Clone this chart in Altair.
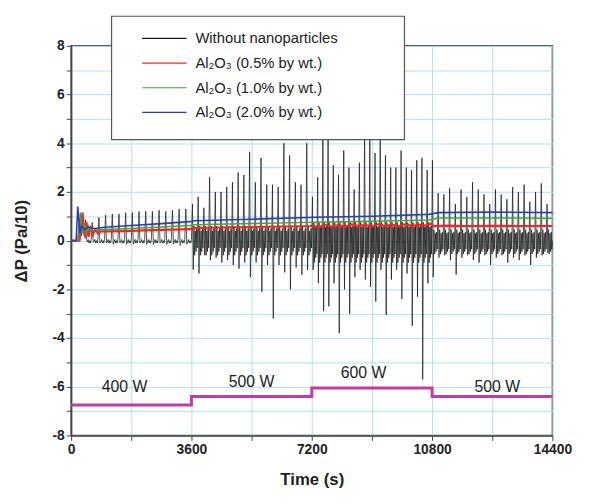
import altair as alt
import pandas as pd

# ---------------- data ----------------
series_names = ["Without nanoparticles", "Al₂O₃ (0.5% by wt.)",
                "Al₂O₃ (1.0% by wt.)", "Al₂O₃ (2.0% by wt.)"]
series_colors = ["#1a1a1a", "#ff1f1f", "#3aa83a", "#2c3cbc"]

x_ticks = [0, 1800, 3600, 5400, 7200, 9000, 10800, 12600, 14400]
y_ticks = [-8, -7, -6, -5, -4, -3, -2, -1, 0, 1, 2, 3, 4, 5, 6, 7, 8]

# black trace (without nanoparticles): lead-in, then one peak/trough per oscillation cycle
black_lead_t = [0, 200, 250, 300, 360, 420]
black_lead_v = [0.0, 0.0, 0.9, 0.2, 0.6, 0.1]

seg_start = [420, 3620, 7211, 10800]
seg_end = [3620, 7211, 10800, 14400]

seg_peaks = [
    [0.85, 0.75, 0.95, 1.05, 1.1, 1.1, 1.15, 1.15, 1.2, 1.2, 1.2, 1.25, 1.2, 1.25, 1.3, 1.3],
    [1.5, 1.8, 1.35, 2.6, 2.0, 2.0, 2.2, 2.4, 2.8, 2.7, 3.65, 2.4, 3.4, 2.3, 2.3, 2.2, 4.0, 3.5, 2.4, 2.3, 4.0],
    [1.8, 2.6, 4.5, 4.3, 3.1, 2.7, 3.7, 3.0, 2.1, 3.2, 4.6, 4.4, 3.6, 4.8, 3.5, 3.0, 3.0, 3.7, 3.0, 2.9, 3.3, 3.4, 2.9],
    [3.3, 1.95, 1.9, 2.15, 1.5, 2.1, 1.8, 2.4, 2.1, 1.9, 1.5, 2.1, 1.9, 1.7, 2.2, 2.0, 2.3, 1.6, 2.0, 2.35, 1.5],
]
seg_troughs = [
    [0.05, -0.05, -0.1, -0.1, -0.15, -0.1, -0.15, -0.15, -0.1, -0.15, -0.15, -0.1, -0.15, -0.15, -0.2, -0.15],
    [-1.2, -1.35, -0.6, -0.8, -0.7, -0.9, -0.8, -1.0, -1.15, -0.9, -1.5, -0.9, -2.1, -1.0, -3.2, -1.0, -1.3, -2.0, -1.1, -1.4, -1.2],
    [-1.2, -1.75, -2.9, -2.7, -1.75, -3.8, -2.0, -3.0, -1.5, -1.2, -1.6, -1.9, -2.5, -1.2, -3.05, -1.6, -1.2, -2.4, -1.35, -3.5, -2.3, -5.7, -1.75],
    [-1.5, -0.7, -0.6, -0.8, -1.4, -0.7, -0.6, -0.8, -0.9, -0.6, -1.0, -0.7, -0.6, -0.9, -0.7, -0.8, -0.6, -1.0, -0.7, -0.6, -0.5],
]
# small in-between wiggle of each cycle, per heating segment
seg_wiggle = [
    [-0.05, 0.05, -0.1, 0.0, -0.1, 0.05],
    [0.6, -0.6, 0.4, -0.45, 0.5, -0.3],
    [0.75, -0.9, 0.55, -0.7, 0.6, -0.55],
    [0.45, -0.55, 0.3, -0.45, 0.35, -0.35],
]

red_t = [0, 250, 300, 340, 400, 460, 520, 580, 650, 720, 800, 900, 1200, 1800, 2400, 3000, 3550, 3650,
         4500, 5400, 6300, 7150, 7250, 7400, 7600, 7800, 8000, 8200, 8400, 8600, 8800, 9000, 9200, 9400,
         9600, 9800, 10000, 10200, 10400, 10600, 10750, 10850, 11200, 11800, 12600, 13400, 14400]
red_v = [0, 0, 0.6, 1.15, 0.2, 0.75, 0.15, 0.6, 0.25, 0.45, 0.3, 0.38, 0.38, 0.4, 0.43, 0.45, 0.47, 0.52,
         0.54, 0.56, 0.58, 0.6, 0.62, 0.55, 0.66, 0.58, 0.64, 0.57, 0.67, 0.6, 0.65, 0.58, 0.68, 0.6,
         0.66, 0.59, 0.68, 0.6, 0.66, 0.62, 0.7, 0.6, 0.62, 0.6, 0.61, 0.6, 0.6]

green_t = [0, 200, 240, 280, 330, 400, 450, 520, 600, 800, 1800, 2700, 3550, 3700, 5400, 7100, 7300,
           9000, 10700, 11000, 12600, 14400]
green_v = [0, 0, 0.5, 1.15, 0.3, 0.7, 0.25, 0.6, 0.4, 0.45, 0.5, 0.56, 0.62, 0.65, 0.7, 0.75, 0.76,
           0.8, 0.85, 0.93, 0.93, 0.92]

blue_t = [0, 150, 200, 260, 320, 400, 500, 700, 1000, 1800, 2700, 3550, 3700, 5400, 7100, 7300,
          9000, 10700, 11000, 12600, 14400]
blue_v = [0, 0, 1.4, 0.3, 0.6, 0.45, 0.55, 0.5, 0.55, 0.62, 0.7, 0.78, 0.82, 0.88, 0.95, 0.96,
          1.0, 1.08, 1.15, 1.17, 1.15]

power_t = [0, 3600, 7200, 10800, 14400]
power_v = [-6.75, -6.4, -6.05, -6.4, -6.4]

power_labels = ["400 W", "500 W", "600 W", "500 W"]
power_label_t = [1600, 5400, 8750, 12750]
power_label_v = [-6.0, -5.8, -5.45, -6.0]

# ---------------- build tables ----------------
cycle_offsets = [0.06, 0.2, 0.33, 0.45, 0.57, 0.69, 0.8, 0.9]
bt, bv = list(black_lead_t), list(black_lead_v)
for s0, s1, pk, tr, wg in zip(seg_start, seg_end, seg_peaks, seg_troughs, seg_wiggle):
    period = (s1 - s0) / len(pk)
    for i, (p, q) in enumerate(zip(pk, tr)):
        t0 = s0 + i * period
        vals = [p, q] + wg
        for off, val in zip(cycle_offsets, vals):
            bt.append(t0 + off * period)
            bv.append(val)
bt.append(14400)
bv.append(0.0)

rows = []
for name, ts, vs in [(series_names[0], bt, bv), (series_names[1], red_t, red_v),
                     (series_names[2], green_t, green_v), (series_names[3], blue_t, blue_v)]:
    for i, (t, v) in enumerate(zip(ts, vs)):
        rows.append({"t": t, "v": v, "series": name, "i": i})
df = pd.DataFrame(rows)

power_df = pd.DataFrame({"t": power_t, "v": power_v})
label_df = pd.DataFrame({"t": power_label_t, "v": power_label_v, "txt": power_labels})

FONT = "Liberation Sans"
xscale = alt.Scale(domain=[0, 14400], nice=False, zero=False)
yscale = alt.Scale(domain=[-8, 8], nice=False, zero=False)

x_axis = alt.Axis(values=x_ticks, title="Time (s)", labelFlush=False,
                  labelExpr="datum.value % 3600 == 0 ? '' + datum.value : ''",
                  titlePadding=16)
y_axis = alt.Axis(values=y_ticks, title="ΔP (Pa/10)",
                  labelExpr="datum.value % 2 == 0 ? '' + datum.value : ''",
                  titlePadding=22)

X = alt.X("t:Q", scale=xscale, axis=x_axis)
Y = alt.Y("v:Q", scale=yscale, axis=y_axis)

color = alt.Color("series:N", scale=alt.Scale(domain=series_names, range=series_colors),
                  legend=alt.Legend(title=None, orient="none", legendX=86, legendY=-16,
                                    symbolType="M-3,0H3", symbolSize=225, symbolStrokeWidth=1.2,
                                    labelFont=FONT, labelFontSize=15, labelColor="#222",
                                    labelOffset=23, rowPadding=8, padding=0,
                                    labelLimit=400))


def series_layer(name, width=0.8):
    return alt.Chart(df[df.series == name]).mark_line(strokeWidth=width).encode(
        x=X, y=Y, color=color, order="i:Q",
    )

black = series_layer(series_names[0], width=0.75)
red = series_layer(series_names[1], width=2.2)
green = series_layer(series_names[2], width=1.5)
blue = series_layer(series_names[3], width=1.6)

power = alt.Chart(power_df).mark_line(interpolate="step-after", color="#c23d9e", strokeWidth=3).encode(
    x=X, y=Y,
)
labels = alt.Chart(label_df).mark_text(font=FONT, fontSize=16, color="#222").encode(
    x=X, y=Y, text="txt:N",
)
legend_box = alt.Chart(pd.DataFrame({"a": [0]})).mark_rect(
    fill="white", stroke="#555", strokeWidth=1.2).encode(
    x=alt.value(41), x2=alt.value(338), y=alt.value(-30), y2=alt.value(95))

chart = alt.layer(black, red, green, blue, power, labels, legend_box).properties(
    width=488, height=395,
    autosize=alt.AutoSizeParams(type="none"),
    padding={"left": 64, "top": 35, "right": 30, "bottom": 56},
).configure_view(stroke="#444", strokeWidth=1.5).configure_axis(
    domainColor="#444", domainWidth=1.5, tickColor="#444", tickSize=5,
    gridColor="#ade3ea", gridWidth=1,
    labelFont=FONT, labelFontWeight="bold", labelFontSize=14, labelColor="#222",
    titleFont=FONT, titleFontWeight="bold", titleFontSize=17, titleColor="#222",
)

chart.save("out.html", embed_options={"renderer": "svg", "actions": False})
